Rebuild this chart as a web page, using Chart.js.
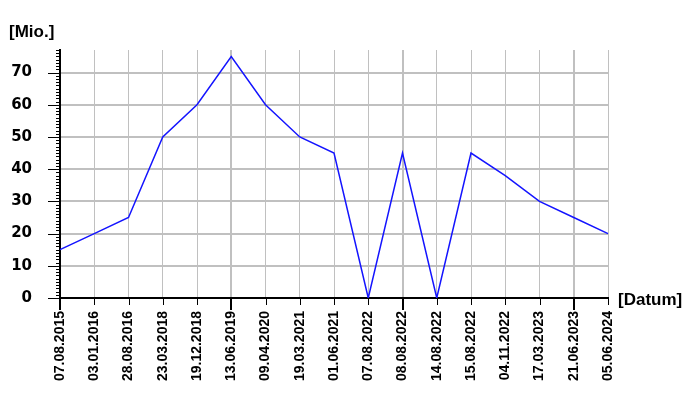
<!DOCTYPE html>
<html>
<head>
<meta charset="utf-8">
<script src="https://cdn.jsdelivr.net/npm/chart.js@4"></script>
<style>
  html, body { margin: 0; padding: 0; background: #fff; }
  #wrap { width: 700px; height: 400px; }
</style>
</head>
<body>
<div id="wrap"><canvas id="c" width="700" height="400"></canvas></div>
<script>
const dates = ["07.08.2015","03.01.2016","28.08.2016","23.03.2018","19.12.2018","13.06.2019","09.04.2020","19.03.2021","01.06.2021","07.08.2022","08.08.2022","14.08.2022","15.08.2022","04.11.2022","17.03.2023","21.06.2023","05.06.2024"];
const values = [15,20,25,50,60,75,60,50,45,0,45,0,45,38,30,25,20];
const yTickValues = [0,10,20,30,40,50,60,70];
const yAxisMax = 77;
const yTitle = "[Mio.]";
const xTitle = "[Datum]";

const extras = {
  id: 'extras',
  afterDraw(chart) {
    const ctx = chart.ctx, xs = chart.scales.x, ys = chart.scales.y;
    const left = chart.chartArea.left, bottom = chart.chartArea.bottom;
    ctx.save();
    ctx.strokeStyle = '#000';
    // y minor/major ticks
    for (let v = 0; v <= yAxisMax; v++) {
      const py = Math.round(ys.getPixelForValue(v)) + 0.5;
      const len = (v % 10 === 0) ? 12 : 4;
      ctx.lineWidth = 1;
      ctx.beginPath(); ctx.moveTo(left - len, py); ctx.lineTo(left, py); ctx.stroke();
    }
    // x ticks
    for (let i = 0; i < dates.length; i++) {
      const px = xs.getPixelForValue(i);
      const major = i % 5 === 0;
      ctx.lineWidth = major ? 2 : 1;
      const xx = major ? Math.round(px) : Math.round(px) + 0.5;
      ctx.beginPath(); ctx.moveTo(xx, bottom); ctx.lineTo(xx, bottom + (major ? 12 : 7)); ctx.stroke();
    }
    // titles
    ctx.fillStyle = '#000';
    ctx.font = 'bold 17px "Liberation Sans", Arial, sans-serif';
    ctx.textBaseline = 'alphabetic';
    ctx.textAlign = 'left';
    ctx.fillText(yTitle, 9, 37);
    ctx.fillText(xTitle, 618, 305);
    ctx.restore();
  }
};

new Chart(document.getElementById('c'), {
  type: 'line',
  data: {
    labels: dates,
    datasets: [{
      data: values,
      borderColor: 'rgb(20,20,255)',
      borderWidth: 1.5,
      pointRadius: 0,
      tension: 0,
      fill: false
    }]
  },
  options: {
    responsive: false,
    animation: false,
    devicePixelRatio: 1,
    layout: { padding: { left: 0, top: 50, right: 92, bottom: 0 } },
    plugins: { legend: { display: false }, tooltip: { enabled: false } },
    scales: {
      x: {
        type: 'category',
        offset: false,
        afterFit(scale) { scale.height = 102; },
        grid: {
          color: '#c0c0c0',
          lineWidth: (c) => (c.index % 5 === 0 ? 2 : 1),
          drawTicks: true,
          tickLength: 8,
          tickColor: 'rgba(0,0,0,0)'
        },
        border: { display: true, color: '#000', width: 2 },
        ticks: {
          autoSkip: false,
          maxRotation: 90,
          minRotation: 90,
          padding: 5,
          color: '#000',
          font: { family: '"Liberation Sans", Arial, sans-serif', size: 14, weight: 'bold' }
        }
      },
      y: {
        min: 0,
        max: yAxisMax,
        afterFit(scale) { scale.width = 60; },
        afterBuildTicks(scale) { scale.ticks = yTickValues.map(v => ({ value: v })); },
        grid: {
          color: '#c0c0c0',
          lineWidth: 2,
          drawTicks: true,
          tickLength: 12,
          tickColor: 'rgba(0,0,0,0)'
        },
        border: { display: true, color: '#000', width: 2 },
        ticks: {
          padding: 16,
          color: '#000',
          font: { family: '"DejaVu Sans", sans-serif', size: 15, weight: 'bold' }
        }
      }
    }
  },
  plugins: [extras]
});
</script>
</body>
</html>
